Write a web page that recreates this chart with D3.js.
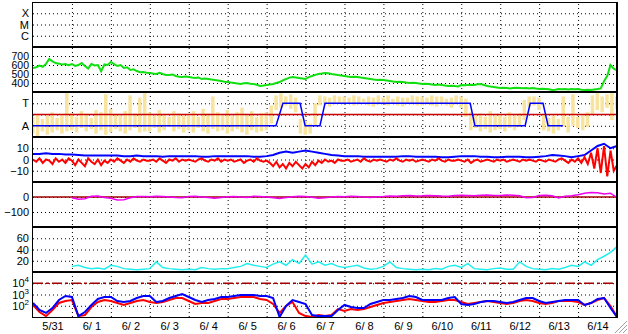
<!DOCTYPE html>
<html>
<head>
<meta charset="utf-8">
<script src="https://cdn.jsdelivr.net/npm/d3@7"></script>
<style>
  html, body { margin: 0; padding: 0; background: #fff; }
  svg { display: block; font-family: "Liberation Sans", Arial, sans-serif; }
</style>
</head>
<body>
<svg id="chart" width="628" height="334"></svg>
<script>
// ---- data ----
const dayLabels = ["5/31", "6/ 1", "6/ 2", "6/ 3", "6/ 4", "6/ 5", "6/ 6", "6/ 7",
  "6/ 8", "6/ 9", "6/10", "6/11", "6/12", "6/13", "6/14"];
const statusLabels = ["X", "M", "C"];

// 2-hourly samples from 5/31 00:00
const green = [567, 575, 594, 580, 612, 667, 640, 622, 615, 605, 611, 598,
  611, 590, 600, 622, 589, 560, 611, 595, 600, 530, 606, 600,
  633, 610, 589, 600, 567, 575, 544, 552, 533, 520, 522, 515,
  511, 505, 500, 512, 500, 490, 489, 495, 478, 470, 467, 472,
  467, 460, 456, 462, 444, 450, 444, 438, 433, 428, 422, 415,
  411, 405, 400, 395, 389, 398, 400, 392, 389, 380, 367, 372,
  378, 384, 389, 400, 411, 430, 444, 460, 467, 462, 456, 450,
  444, 465, 478, 490, 500, 505, 511, 508, 500, 495, 489, 484,
  478, 472, 467, 470, 467, 460, 456, 450, 444, 438, 433, 436,
  433, 428, 422, 416, 411, 414, 411, 405, 400, 404, 400, 395,
  389, 392, 389, 384, 378, 382, 378, 372, 367, 370, 367, 362,
  378, 375, 378, 381, 378, 385, 389, 378, 367, 360, 356, 350,
  344, 348, 344, 340, 344, 346, 344, 342, 344, 340, 344, 338,
  333, 336, 333, 330, 322, 326, 333, 330, 333, 328, 333, 330,
  333, 326, 322, 325, 322, 328, 333, 340, 420, 480, 600, 560, 540];

// mode (A = 1, T = 3) as [day offset, level]
const modeSteps = [[0, 1], [6.24, 1], [6.42, 3], [6.86, 3], [6.99, 1], [7.37, 1], [7.5, 3],
  [11.23, 3], [11.35, 1], [12.64, 1], [12.77, 3], [13.1, 3], [13.23, 1], [13.61, 1]];
const modeMid = 2;

// 3-hourly spread of the raw mode reading
const rawHi = [1.8, 2.0, 1.6, 1.9, 2.2, 1.7, 2.0, 3.9,
  2.1, 1.8, 2.3, 2.0, 1.7, 2.4, 2.2, 3.8,
  2.5, 2.0, 1.9, 2.3, 3.7, 2.1, 3.5, 3.9,
  2.2, 1.9, 2.4, 2.0, 1.8, 2.3, 2.1, 1.9,
  2.0, 2.3, 1.8, 2.5, 2.1, 3.6, 2.2, 2.0,
  2.4, 1.9, 2.2, 2.6, 2.0, 2.3, 1.8, 2.1,
  2.2, 2.8, 3.7, 3.9, 3.6, 3.8, 3.5, 1.6,
  1.4, 1.2, 3.0, 3.7, 3.6, 3.5, 3.7, 3.6,
  3.6, 3.5, 3.7, 3.6, 3.4, 3.6, 3.5, 3.7,
  3.5, 3.7, 3.4, 3.6, 3.5, 3.5, 3.7, 3.6,
  3.6, 3.5, 3.7, 3.6, 3.6, 3.4, 3.5, 3.7,
  3.6, 3.4, 2.2, 1.9, 2.1, 1.8, 2.3, 1.9,
  2.0, 1.8, 2.2, 1.9, 2.1, 3.3, 3.6, 3.6,
  3.5, 2.0, 1.7, 1.9, 1.6, 3.6, 1.8, 3.8,
  1.8, 2.0, 2.2, 3.7, 3.9, 3.6, 3.8, 3.9, 3.6];
const rawLo = [0.3, 0.1, 0.5, 0.2, 0.4, 0.6, 0.3, 0.5,
  0.6, 0.4, 0.8, 0.5, 0.7, 0.3, 0.6, 0.2,
  0.4, 0.7, 0.5, 0.3, 0.6, 0.8, 0.4, 0.5,
  0.5, 0.8, 0.4, 0.6, 0.9, 0.5, 0.7, 0.4,
  0.6, 0.4, 0.8, 0.5, 0.3, 0.7, 0.5, 0.6,
  0.3, 0.5, 0.7, 0.4, 0.2, 0.6, 0.4, 0.5,
  0.6, 1.2, 2.4, 2.6, 2.8, 2.5, 2.2, 0.3,
  0.2, 0.3, 1.0, 2.8, 2.9, 2.7, 2.9, 3.0,
  2.9, 3.0, 2.8, 2.9, 3.1, 2.8, 2.7, 2.9,
  2.9, 2.8, 3.0, 2.8, 2.7, 3.0, 2.9, 2.8,
  2.8, 2.9, 2.8, 2.7, 3.0, 2.8, 2.6, 2.9,
  2.6, 1.8, 0.6, 0.8, 0.5, 0.7, 0.4, 0.6,
  0.7, 0.5, 0.8, 0.6, 0.9, 1.5, 2.7, 2.8,
  2.4, 0.6, 0.5, 0.3, 0.6, 0.9, 0.4, 1.0,
  0.8, 0.6, 0.9, 2.0, 2.4, 2.2, 2.6, 1.5, 2.5];

// 4-hourly
const offsetBlue = [5, 5, 5.5, 5, 5, 4.5, 4.5, 4, 3.5, 3.5, 3.5, 3.5,
  3.5, 3.5, 3, 3, 3.5, 3, 3, 3, 2.5, 3, 3, 3,
  3, 3, 2.5, 2.5, 3, 3, 3, 3, 3, 3, 2.5, 2.5,
  3, 4, 6, 7, 6, 7, 8, 7, 6, 5, 4, 3.5,
  3, 3, 3, 2.5, 2.5, 2.5, 2.5, 2.5, 2.5, 3, 3, 2.5,
  2.5, 2.5, 2.5, 2, 2, 2.5, 3, 3, 3, 2.5, 2.5, 2,
  2, 2.5, 2.5, 2.5, 2, 2, 2.5, 3, 4, 3.5, 3, 2,
  3, 4, 8, 12, 14, 10, 12];
// 2-hourly
const offsetRed = [0, -2, 1, -3, 0, -1, -4, 1, -2, 0, -3, 1,
  -1, -5, 0, -3, -6, 1, -2, -4, 0, -5, -1, -3,
  0, -2, 1, -1, -3, 0, -2, 1, -1, -2, 0, -1,
  -1, 0, -2, 1, -1, -3, 0, -1, 1, -2, 0, -1,
  0, -1, -2, 0, 1, -1, -2, 0, -1, 1, -2, 0,
  -1, 0, -2, -1, 0, -3, -1, 0, -2, 1, -1, -2,
  -1, -3, -6, -2, -7, -4, -8, -3, -6, -2, -5, -8,
  -4, -7, -2, -5, -1, -3, 0, -2, -1, -3, 0, -1,
  -1, 0, -2, -1, 0, -2, 1, -1, -2, 0, -1, 0,
  -1, -2, 0, -1, 1, -1, -2, 0, -1, 0, -2, -1,
  0, -1, -2, 0, -1, 1, -1, -2, 0, -1, -1, 0,
  -1, -2, 0, -3, -1, 0, -2, -1, 0, -1, -2, 0,
  -1, 0, -2, -1, 0, -1, -2, 0, -1, 0, -1, -2,
  0, -1, -2, 0, -1, -2, 0, 1, -1, -3, 0, -2,
  1, -3, 2, -4, 6, -8, 10, -12, 12, -15, 8, -10, -5];

// 4-hourly from 6/1 00:00
const angle = [-5, -15, -12, 5, 6, -3, -8, -20, -18, -5, 3, 4,
  2, 5, 3, 0, -3, -5, 3, 5, 0, -4, -8, -3,
  2, 4, 0, -3, 5, 3, 0, -5, -10, -3, 2, 5,
  4, -2, -8, -5, 0, 3, 2, 5, 4, 0, -3, 2,
  3, 6, 5, 8, 10, 7, 8, 10, 9, 6, 5, 10,
  12, 10, 8, 12, 13, 10, 10, 13, 12, 8, -5, -3,
  10, 12, 8, -6, 5, 8, 15, 25, 30, 28, 20, 25, -5];
const speed = [10, 12, 8, 6, 7, 5, 12, 10, 6, 5, 4, 5,
  6, 18, 8, 6, 5, 4, 5, 4, 8, 6, 5, 6,
  6, 8, 10, 15, 12, 10, 8, 14, 18, 12, 22, 15,
  30, 14, 18, 12, 15, 10, 8, 10, 12, 7, 5, 6,
  10, 18, 8, 6, 5, 4, 5, 4, 6, 5, 10, 12,
  8, 15, 6, 5, 4, 6, 7, 5, 5, 18, 10, 6,
  5, 4, 6, 5, 8, 12, 10, 18, 12, 22, 28, 35, 45];

// 4-hourly from 5/31 00:00 (log scale)
const countRed = [117, 28, 12, 42, 176, 264, 324, 12, 15, 77, 215, 324,
  264, 176, 117, 176, 264, 324, 215, 176, 215, 324, 489, 489,
  264, 143, 176, 176, 264, 398, 398, 489, 600, 600, 600, 398,
  324, 143, 23, 95, 215, 23, 12, 10, 15, 12, 15, 51,
  34, 51, 42, 51, 77, 117, 176, 215, 264, 324, 398, 324,
  264, 215, 215, 264, 324, 324, 215, 143, 176, 215, 264, 215,
  176, 143, 176, 264, 324, 264, 176, 143, 176, 264, 264, 264,
  215, 117, 176, 324, 489, 95, 10];
const countBlue = [176, 42, 23, 63, 324, 736, 600, 12, 28, 117, 398, 600,
  600, 264, 215, 264, 489, 736, 736, 215, 264, 489, 736, 1100,
  600, 324, 215, 324, 398, 600, 600, 736, 900, 900, 900, 736,
  736, 489, 10, 95, 324, 215, 143, 15, 12, 12, 12, 42,
  117, 77, 63, 63, 143, 215, 324, 324, 398, 489, 736, 600,
  324, 324, 324, 324, 489, 600, 143, 117, 143, 215, 264, 264,
  215, 176, 215, 324, 489, 489, 264, 176, 215, 264, 324, 324,
  324, 117, 176, 398, 489, 63, 10];
const countLimit = 10000;

// ---- layout ----
const svg = d3.select("svg#chart");
const left = 33, right = 617;
const panelTops = [2, 47, 92, 137, 182, 227, 272];
const bottom = 317;
const start = new Date(2008, 4, 31);
const end = new Date(2008, 5, 15);
const fontFamily = '"Liberation Sans", Arial, sans-serif';

const x = d3.scaleTime().domain([start, end]).range([left, right]);
const tAt = (i, hours, from) => d3.timeHour.offset(from || start, i * hours);
const day1 = d3.timeDay.offset(start, 1);

const panelRange = k => [panelTops[k] + 45, panelTops[k]];
const yStatus = d3.scaleLinear().domain([0, 4]).range(panelRange(0));
const yGreen = d3.scaleLinear().domain([300, 800]).range(panelRange(1));
const yMode = d3.scaleLinear().domain([0, 4]).range(panelRange(2));
const yOff = d3.scaleLinear().domain([-20, 20]).range(panelRange(3));
const yAng = d3.scaleLinear().domain([-200, 100]).range(panelRange(4));
const ySpd = d3.scaleLinear().domain([0, 80]).range(panelRange(5));
const yCnt = d3.scaleLog().domain([10, 1e5]).range([bottom, panelTops[6]]);

const defs = svg.append("defs");
panelTops.forEach((top, k) => {
  const h = (k < 6 ? panelTops[k + 1] : bottom) - top;
  defs.append("clipPath").attr("id", "clip" + k)
    .append("rect").attr("x", left).attr("y", top).attr("width", right - left).attr("height", h);
});

// vertical day grid
const midnights = d3.range(1, 15).map(d => d3.timeDay.offset(start, d));
svg.append("g")
  .attr("transform", "translate(0," + bottom + ")")
  .call(d3.axisBottom(x).tickValues(midnights).tickSize(-(bottom - panelTops[0])).tickFormat(""))
  .call(g => g.select(".domain").remove())
  .call(g => g.selectAll("line").attr("stroke", "#000").attr("stroke-dasharray", "1,3"));

// horizontal grids + labels
function yAxis(scale, values, fmt, size) {
  svg.append("g").attr("transform", "translate(" + left + ",0)")
    .call(d3.axisLeft(scale).tickValues(values).tickSize(-(right - left)).tickFormat(""))
    .call(g => g.select(".domain").remove())
    .call(g => g.selectAll("line").attr("stroke", "#000").attr("stroke-dasharray", "1,3"));
  const lab = svg.append("g").attr("transform", "translate(" + (left - 4) + ",0)");
  lab.call(d3.axisLeft(scale).tickValues(values).tickSize(0).tickPadding(0).tickFormat(fmt))
    .call(g => g.select(".domain").remove())
    .call(g => g.selectAll("text").attr("font-size", size || 11).attr("fill", "#000")
      .attr("font-family", fontFamily));
  return lab;
}
yAxis(yStatus, [3, 2, 1], (d, i) => statusLabels[i]);
yAxis(yGreen, [400, 500, 600, 700], d3.format("d"), 10.5);
yAxis(yMode, [1, 2, 3], d => d === 3 ? "T" : d === 1 ? "A" : "");
yAxis(yOff, [-10, 0, 10], d3.format("d"));
yAxis(yAng, [-100, 0], d3.format("d"));
yAxis(ySpd, [20, 40, 60], d3.format("d"));
const logLab = yAxis(yCnt, [100, 1000, 10000], () => "");
logLab.selectAll(".tick text").each(function(d) {
  const t = d3.select(this);
  t.append("tspan").attr("dy", "0.32em").text("10");
  t.append("tspan").attr("dy", -5).attr("font-size", 8).text(Math.round(Math.log10(d)));
}).attr("dy", null);

// ---- marks ----
const line = (yS, xs) => d3.line().x((d, i) => x(xs(i))).y(d => yS(d));

// panel 2: green
svg.append("path").datum(green).attr("clip-path", "url(#clip1)")
  .attr("d", line(yGreen, i => tAt(i, 2))).attr("fill", "none")
  .attr("stroke", "#10e010").attr("stroke-width", 2);

// panel 3: raw spread, mid line, mode
svg.append("g").attr("clip-path", "url(#clip2)")
  .selectAll("rect").data(rawHi).join("rect")
  .attr("x", (d, i) => x(tAt(i, 3)) - 2).attr("width", 3.5)
  .attr("y", d => yMode(d)).attr("height", (d, i) => yMode(rawLo[i]) - yMode(d))
  .attr("fill", "#f8e49e");
svg.append("line").attr("x1", left).attr("x2", right)
  .attr("y1", yMode(modeMid)).attr("y2", yMode(modeMid))
  .attr("stroke", "#cc0000").attr("stroke-width", 1.5);
svg.append("path").datum(modeSteps).attr("clip-path", "url(#clip2)")
  .attr("d", d3.line().x(d => x(d3.timeMinute.offset(start, Math.round(d[0] * 1440)))).y(d => yMode(d[1])))
  .attr("fill", "none").attr("stroke", "#0000ff").attr("stroke-width", 1.5);

// panel 4: offsets
svg.append("path").datum(offsetBlue).attr("clip-path", "url(#clip3)")
  .attr("d", line(yOff, i => tAt(i, 4))).attr("fill", "none")
  .attr("stroke", "#0000ff").attr("stroke-width", 2);
svg.append("path").datum(offsetRed).attr("clip-path", "url(#clip3)")
  .attr("d", line(yOff, i => tAt(i, 2))).attr("fill", "none")
  .attr("stroke", "#ff0000").attr("stroke-width", 2);

// panel 5: angle
svg.append("line").attr("x1", left).attr("x2", right)
  .attr("y1", yAng(0)).attr("y2", yAng(0))
  .attr("stroke", "#a00000").attr("stroke-width", 1.5);
svg.append("path").datum(angle).attr("clip-path", "url(#clip4)")
  .attr("d", line(yAng, i => tAt(i, 4, day1))).attr("fill", "none")
  .attr("stroke", "#ee00ee").attr("stroke-width", 1.5);

// panel 6: speed
svg.append("path").datum(speed).attr("clip-path", "url(#clip5)")
  .attr("d", line(ySpd, i => tAt(i, 4, day1))).attr("fill", "none")
  .attr("stroke", "#22eeee").attr("stroke-width", 1.5);

// panel 7: counts
svg.append("line").attr("x1", left).attr("x2", right)
  .attr("y1", yCnt(countLimit)).attr("y2", yCnt(countLimit))
  .attr("stroke", "#a00000").attr("stroke-width", 1.5).attr("stroke-dasharray", "10,3,3,3");
svg.append("path").datum(countRed).attr("clip-path", "url(#clip6)")
  .attr("d", line(yCnt, i => tAt(i, 4))).attr("fill", "none")
  .attr("stroke", "#ff0000").attr("stroke-width", 2);
svg.append("path").datum(countBlue).attr("clip-path", "url(#clip6)")
  .attr("d", line(yCnt, i => tAt(i, 4))).attr("fill", "none")
  .attr("stroke", "#0000ff").attr("stroke-width", 2);

// frame and panel separators
svg.append("rect").attr("x", left - 0.5).attr("y", panelTops[0] + 0.5)
  .attr("width", right - left + 1).attr("height", bottom - panelTops[0])
  .attr("fill", "none").attr("stroke", "#000").attr("stroke-width", 1);
svg.selectAll("line.sep").data(panelTops.slice(1)).join("line").attr("class", "sep")
  .attr("x1", left).attr("x2", right).attr("y1", d => d).attr("y2", d => d)
  .attr("stroke", "#000").attr("stroke-width", 2);
svg.append("line").attr("x1", right).attr("x2", right)
  .attr("y1", panelTops[0]).attr("y2", bottom).attr("stroke", "#000").attr("stroke-width", 2);

// date labels at noon
const noons = d3.range(0, 15).map(d => tAt(d * 2 + 1, 12));
svg.append("g").attr("transform", "translate(0," + (bottom + 3) + ")")
  .call(d3.axisBottom(x).tickValues(noons).tickSize(0).tickPadding(2).tickFormat((d, i) => dayLabels[i]))
  .call(g => g.select(".domain").remove())
  .call(g => g.selectAll("text").attr("font-size", 11).attr("fill", "#000")
    .attr("font-family", fontFamily));

// window size grip
const grip = svg.append("g").attr("stroke", "#a0a0a0").attr("stroke-width", 1);
[4, 8, 12].forEach(o => grip.append("line")
  .attr("x1", 627 - o).attr("y1", 333).attr("x2", 627).attr("y2", 333 - o));
</script>
</body>
</html>
